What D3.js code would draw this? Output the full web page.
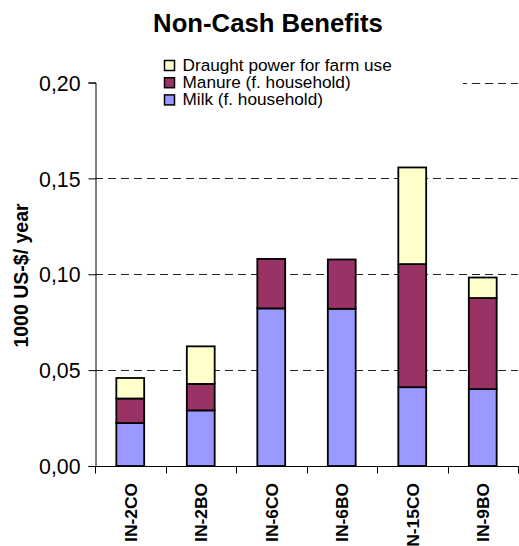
<!DOCTYPE html>
<html><head><meta charset="utf-8">
<script src="https://cdn.jsdelivr.net/npm/d3@7"></script>
<style>
html,body{margin:0;padding:0;background:#fff;}
svg{display:block;font-family:"Liberation Sans",Arial,sans-serif;}
</style></head>
<body>
<svg id="c" width="519" height="546"></svg>
<script>
const categories = ["IN-2CO","IN-2BO","IN-6CO","IN-6BO","IN-15CO","IN-9BO"];
const milk    = [0.0224, 0.0290, 0.0822, 0.0820, 0.0411, 0.0401];
const manure  = [0.0128, 0.0138, 0.0258, 0.0257, 0.0642, 0.0475];
const draught = [0.0107, 0.0196, 0.0000, 0.0000, 0.0504, 0.0107];
const seriesNames = ["Milk (f. household)","Manure (f. household)","Draught power for farm use"];
const seriesColors = ["#9999FF","#993366","#FFFFCC"];
const yTicks = [0, 0.05, 0.10, 0.15, 0.20];
const yTickLabels = ["0,00","0,05","0,10","0,15","0,20"];
const title = "Non-Cash Benefits";
const yTitle = "1000 US-$/ year";

const svg = d3.select("#c");
const pLeft = 95, pRight = 518, pTop = 82.5, pBottom = 466;
const x = d3.scaleBand().domain(categories).range([pLeft, pRight]).padding(0);
const y = d3.scaleLinear().domain([0, 0.2]).range([pBottom, pTop]);

const rows = categories.map((c,i)=>({cat:c, milk:milk[i], manure:manure[i], draught:draught[i]}));
const stack = d3.stack().keys(["milk","manure","draught"])(rows);

// gridlines
svg.append("g").selectAll("line").data(yTicks.filter(t=>t>0)).join("line")
  .attr("x1", pLeft).attr("x2", pRight)
  .attr("y1", d=>Math.round(y(d))+0.5).attr("y2", d=>Math.round(y(d))+0.5)
  .attr("stroke", "#222").attr("stroke-width", 1).attr("stroke-dasharray", "8,5");

// bars
const bw = x.bandwidth(), barW = bw * 0.395;
const g = svg.append("g");
stack.forEach((s, si) => {
  g.append("g").selectAll("rect").data(s.filter(d => d[1]-d[0] > 0)).join("rect")
    .attr("x", d => x(d.data.cat) + (bw - barW)/2)
    .attr("width", barW)
    .attr("y", d => y(d[1]))
    .attr("height", d => y(d[0]) - y(d[1]))
    .attr("fill", seriesColors[si])
    .attr("stroke", "#000").attr("stroke-width", 1.8);
});

// legend background + legend
svg.append("rect").attr("x", pLeft+1).attr("y", 55).attr("width", 463-pLeft-1).attr("height", 52).attr("fill", "#fff");
const legendOrder = [2,1,0];
const lg = svg.append("g");
legendOrder.forEach((si, k) => {
  const yy = 60 + k*17.2;
  lg.append("rect").attr("x", 164.5).attr("y", yy+0.5).attr("width", 10).attr("height", 10)
    .attr("fill", seriesColors[si]).attr("stroke", "#000").attr("stroke-width", 1.5);
  lg.append("text").attr("x", 182.5).attr("y", yy + 10.7).attr("font-size", "17.2px")
    .attr("fill", "#000").text(seriesNames[si]);
});

// y axis
const yAxis = d3.axisLeft(y).tickValues(yTicks).tickFormat((d,i)=>yTickLabels[i]).tickSizeOuter(0).tickSize(7).tickPadding(8);
const ya = svg.append("g").attr("transform", `translate(${pLeft+0.5},0)`).call(yAxis);
ya.selectAll("text").attr("font-size", "21.3px").attr("fill", "#000").attr("font-family", "'Liberation Sans',Arial,sans-serif").attr("dy", "0.36em");
ya.selectAll("line,path").attr("stroke", "#000");

// x axis
const xa = svg.append("g").attr("transform", `translate(0,${pBottom+0.5})`);
xa.append("line").attr("x1", pLeft).attr("x2", pRight+0.5).attr("stroke", "#000");
xa.selectAll(".tk").data(d3.range(categories.length+1)).join("line")
  .attr("x1", i => Math.round(pLeft + i*bw)+0.5).attr("x2", i => Math.round(pLeft + i*bw)+0.5)
  .attr("y1", 0).attr("y2", 7).attr("stroke", "#000");
svg.append("g").selectAll("text").data(categories).join("text")
  .attr("transform", d => `translate(${x(d)+bw/2+6.3},483) rotate(-90)`)
  .attr("text-anchor", "end").attr("font-weight", "bold").attr("font-size", "17.4px")
  .attr("fill", "#000").text(d=>d);

// titles
svg.append("text").attr("x", 268).attr("y", 32).attr("text-anchor", "middle")
  .attr("font-weight", "bold").attr("font-size", "25.7px").attr("fill", "#000").text(title);
svg.append("text").attr("transform", "translate(27.5,275.5) rotate(-90)").attr("text-anchor", "middle")
  .attr("font-weight", "bold").attr("font-size", "19.5px").attr("fill", "#000").text(yTitle);
</script>
</body></html>
